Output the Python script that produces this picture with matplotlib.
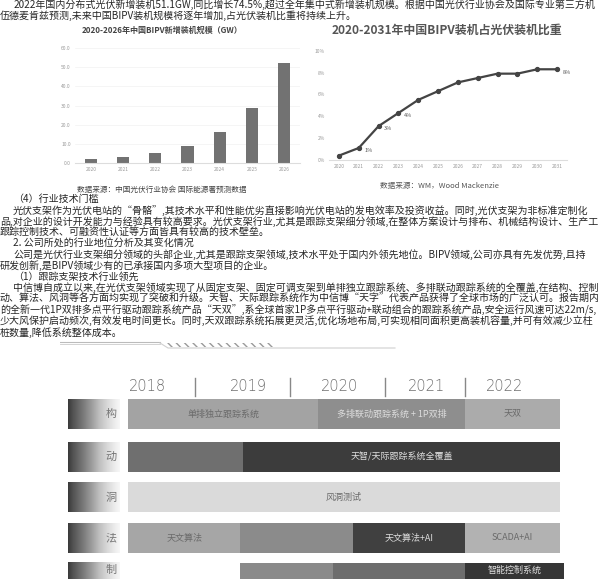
import numpy as np
import matplotlib
matplotlib.use("Agg")
import matplotlib.pyplot as plt
from matplotlib.patches import Rectangle

plt.rcParams['font.family'] = ['Noto Sans CJK SC', 'DejaVu Sans']

# ---- 数据 ----
bar_years = ['2020', '2021', '2022', '2023', '2024', '2025', '2026']
bar_values = [2.1, 3.1, 5.2, 8.7, 16.0, 28.8, 52.4]          # GW
bar_yticks = [0, 10, 20, 30, 40, 50, 60]

line_years = [str(y) for y in range(2020, 2032)]
line_values = [0.4, 1.1, 3.1, 4.3, 5.5, 6.3, 7.1, 7.5, 7.9, 7.9, 8.3, 8.3]  # %
line_yticks = [0, 2, 4, 6, 8, 10]
labeled_points = [1, 2, 3, 11]

top_lines = [
    "2022年国内分布式光伏新增装机51.1GW,同比增长74.5%,超过全年集中式新增装机规模。根据中国光伏行业协会及国际专业第三方机",
    "伍德麦肯兹预测,未来中国BIPV装机规模将逐年增加,占光伏装机比重将持续上升。",
]
body_lines = [
    "（4）行业技术门槛",
    "光伏支架作为光伏电站的“骨骼”,其技术水平和性能优劣直接影响光伏电站的发电效率及投资收益。同时,光伏支架为非标准定制化",
    "品,对企业的设计开发能力与经验具有较高要求。光伏支架行业,尤其是跟踪支架细分领域,在整体方案设计与排布、机械结构设计、生产工艺",
    "跟踪控制技术、可融资性认证等方面皆具有较高的技术壁垒。",
    "2. 公司所处的行业地位分析及其变化情况",
    "公司是光伏行业支架细分领域的头部企业,尤其是跟踪支架领域,技术水平处于国内外领先地位。BIPV领域,公司亦具有先发优势,且持",
    "研发创新,是BIPV领域少有的已承接国内多项大型项目的企业。",
    "（1）跟踪支架技术行业领先",
    "中信博自成立以来,在光伏支架领域实现了从固定支架、固定可调支架到单排独立跟踪系统、多排联动跟踪系统的全覆盖,在结构、控制、",
    "动、算法、风洞等各方面均实现了突破和升级。天智、天际跟踪系统作为中信博“天字”代表产品获得了全球市场的广泛认可。报告期内,公司推",
    "的全新一代1P双排多点平行驱动跟踪系统产品“天双”,系全球首家1P多点平行驱动+联动组合的跟踪系统产品,安全运行风速可达22m/s,",
    "少大风保护启动频次,有效发电时间更长。同时,天双跟踪系统拓展更灵活,优化场地布局,可实现相同面积更高装机容量,并可有效减少立柱",
    "桩数量,降低系统整体成本。",
]
body_indent = [1, 1, 0, 0, 1, 1, 0, 1, 1, 0, 0, 0, 0]

tl_years = ['2018', '2019', '2020', '2021', '2022']
tl_rows = ['结构', '驱动', '风洞', '算法', '控制']
# 每行的分段: (行号, 起点, 终点, 颜色, 文字)
tl_segments = [
    (0, 2018.0, 2020.2, '#a3a3a3', '单排独立跟踪系统'),
    (0, 2020.2, 2021.9, '#8e8e8e', '多排联动跟踪系统 + 1P双排'),
    (0, 2021.9, 2023.0, '#ababab', '天双'),
    (1, 2018.0, 2019.33, '#6f6f6f', ''),
    (1, 2019.33, 2023.0, '#3c3c3c', '天智/天际跟踪系统全覆盖'),
    (2, 2018.0, 2023.0, '#dadada', '风洞测试'),
    (3, 2018.0, 2019.3, '#a6a6a6', '天文算法'),
    (3, 2019.3, 2020.6, '#8b8b8b', ''),
    (3, 2020.6, 2021.9, '#404040', '天文算法+AI'),
    (3, 2021.9, 2023.0, '#b2b2b2', 'SCADA+AI'),
    (4, 2019.3, 2020.37, '#8a8a8a', ''),
    (4, 2020.37, 2021.9, '#6d6d6d', ''),
    (4, 2021.9, 2023.05, '#363636', '智能控制系统'),
]
tl_year_pos = [2018.22, 2019.39, 2020.45, 2021.46, 2022.36]
tl_sep_pos = [2018.78, 2019.875, 2020.97, 2021.9]

W, H = 602, 579
fig = plt.figure(figsize=(W / 100, H / 100), dpi=100)
fs = 7.2
txt_color = '#262626'

def px(x, y):
    return x / W, 1 - y / H

renderer = fig.canvas.get_renderer()

def page_line(x0, y0, s):
    t = fig.text(*px(x0, y0), s, fontsize=fs, color=txt_color, va='center')
    # 扫描件右侧被裁切, 这里把超出页面的字去掉
    while t.get_window_extent(renderer).x1 > W - 1 and len(s) > 1:
        s = s[:-1]
        t.set_text(s)
    return t

# 顶部文字
page_line(14, 5, top_lines[0])
page_line(0, 16, top_lines[1])

# 正文
for i, line in enumerate(body_lines):
    page_line(13 if body_indent[i] else 0, 199 + i * 11.1, line)

# ---- 左图: 柱状图 ----
ax1 = fig.add_axes([75 / W, 1 - 163 / H, 225 / W, 115 / H])
x = np.arange(len(bar_years))
ax1.bar(x, bar_values, width=0.38, color='#727272')
ax1.set_xlim(-0.5, len(bar_years) - 0.5)
ax1.set_ylim(0, 60)
ax1.set_yticks(bar_yticks)
ax1.set_yticklabels([f'{v:.1f}' for v in bar_yticks], fontsize=3.5, color='#999999')
ax1.set_xticks(x)
ax1.set_xticklabels(bar_years, fontsize=3.5, color='#999999')
ax1.yaxis.grid(True, color='#f2f2f2', lw=0.5)
ax1.set_axisbelow(True)
for s in ['top', 'right', 'left']:
    ax1.spines[s].set_visible(False)
ax1.spines['bottom'].set_color('#dddddd')
ax1.tick_params(length=0, pad=3)
fig.text(*px(162, 30), '2020-2026年中国BIPV新增装机规模（GW）', fontsize=5.8,
         fontweight='bold', color='#444444', ha='center', va='center')
fig.text(*px(162, 190), '数据来源：中国光伏行业协会 国际能源署预测数据', fontsize=5.5,
         color='#444444', ha='center', va='center')

# ---- 右图: 折线图 ----
ax2 = fig.add_axes([329 / W, 1 - 160 / H, 238 / W, 109.3 / H])
xl = np.arange(len(line_years))
ax2.plot(xl, line_values, color='#444444', lw=1.6, marker='o', ms=2.8)
for i in labeled_points:
    ax2.annotate(f'{line_values[i]:.0f}%', (xl[i], line_values[i]), xytext=(4, -2),
                 textcoords='offset points', fontsize=4, color='#555555', va='center')
ax2.set_xlim(-0.5, len(line_years) - 0.5)
ax2.set_ylim(0, 10)
ax2.set_yticks(line_yticks)
ax2.set_yticklabels([f'{v}%' for v in line_yticks], fontsize=3.5, color='#999999')
ax2.set_xticks(xl)
ax2.set_xticklabels(line_years, fontsize=3.5, color='#999999')
for s in ['top', 'right', 'left']:
    ax2.spines[s].set_visible(False)
ax2.spines['bottom'].set_color('#dddddd')
ax2.tick_params(length=0, pad=3)
fig.text(*px(447, 30), '2020-2031年中国BIPV装机占光伏装机比重', fontsize=8.6,
         fontweight='bold', color='#555555', ha='center', va='center')
fig.text(*px(440, 186), '数据来源：WM，Wood Mackenzie', fontsize=5.5,
         color='#555555', ha='center', va='center')

# ---- 底部: 技术路线时间轴 ----
ax3 = fig.add_axes([60 / W, 0, 505 / W, (579 - 333) / H])
# 横轴用年份单位: 2018 -> 像素128, 每年86.4像素
x_left = 2018 - (128 - 60) / 86.4
x_right = 2018 + (565 - 128) / 86.4
ax3.set_xlim(x_left, x_right)
ax3.set_ylim(579, 333)
ax3.axis('off')

def yr(p):
    return 2018 + (p - 128) / 86.4

# 装饰线
ax3.plot([x_left, yr(160)], [342, 342], color='#bbbbbb', lw=0.8)
ax3.plot([x_left, yr(160)], [344.5, 344.5], color='#cccccc', lw=0.6)
ax3.plot([yr(160), yr(168), yr(395)], [343, 348, 348], color='#d0d0d0', lw=0.8)
ax3.add_patch(Rectangle((yr(167), 343), yr(273) - yr(167), 4, facecolor='white',
                        edgecolor='#9a9a9a', hatch='\\\\\\\\', lw=0))

for yv, lab in zip(tl_year_pos, tl_years):
    ax3.text(yv, 387, lab, fontsize=10.5, color='#707070', ha='center', va='center',
             family=['DejaVu Sans'], fontweight='light')
for sv in tl_sep_pos:
    ax3.plot([sv, sv], [378, 396], color='#888888', lw=1)

row_y = [414, 457, 497.5, 538, 578]
row_h = 30
text_y = [414, 457, 497.5, 538, 570]
grad = np.linspace(0, 1, 64).reshape(1, -1)
for r, lab in enumerate(tl_rows):
    y0 = row_y[r]
    ax3.imshow(grad, cmap='Greys_r', vmin=-0.25, vmax=1.1, aspect='auto',
               extent=(yr(68), yr(120), y0 + row_h / 2, y0 - row_h / 2), zorder=1)
    ax3.text(yr(117), text_y[r], lab[-1], fontsize=8, color='#777777', ha='right', va='center')

for r, a, b, c, t in tl_segments:
    ax3.barh(row_y[r], b - a, left=a, height=row_h, color=c, zorder=2)
    if t:
        lum = int(c[1:3], 16)
        ax3.text((a + b) / 2, text_y[r], t, fontsize=6.5,
                 color='#dddddd' if lum < 0x90 else '#6a6a6a',
                 ha='center', va='center', zorder=3)

fig.savefig('out.png', dpi=100)
